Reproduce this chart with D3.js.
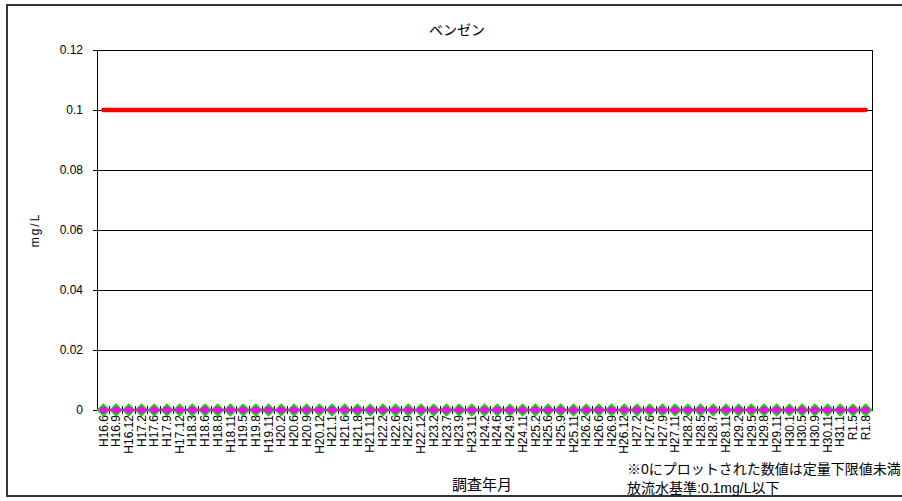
<!DOCTYPE html>
<html><head><meta charset="utf-8">
<script src="https://cdn.jsdelivr.net/npm/d3@7"></script>
<style>body{margin:0;background:#fff}svg{display:block}text{font-family:"Liberation Sans","Noto Sans CJK JP",sans-serif;fill:#000}</style>
</head><body>
<script>
const categories = ["H16.6","H16.9","H16.12","H17.2","H17.6","H17.9","H17.12","H18.3","H18.6","H18.8","H18.11","H19.5","H19.8","H19.11","H20.2",
"H20.6","H20.9","H20.12","H21.1","H21.6","H21.8","H21.11","H22.2","H22.6","H22.9","H22.12","H23.2","H23.7","H23.9","H23.11",
"H24.2","H24.6","H24.9","H24.11","H25.2","H25.6","H25.9","H25.11","H26.2","H26.6","H26.9","H26.12","H27.2","H27.6","H27.9",
"H27.11","H28.2","H28.5","H28.7","H28.11","H29.2","H29.5","H29.8","H29.11","H30.1","H30.5","H30.9","H30.11","H31.1","R1.5","R1.8"];
const measured = categories.map(() => 0);      // 定量下限値未満 -> 0
const lowerLimit = categories.map(() => 0);
const standard = categories.map(() => 0.1);    // 放流水基準
const yTicks = [0, 0.02, 0.04, 0.06, 0.08, 0.1, 0.12];
const yTickLabels = ["0","0.02","0.04","0.06","0.08","0.1","0.12"];

const W = 902, H = 501;
const L = 97, R = 872, T = 50, B = 410;
const svg = d3.select("body").append("svg").attr("width", W).attr("height", H);

// outer border
svg.append("rect").attr("x", 7).attr("y", 5).attr("width", 910).attr("height", 491)
  .attr("fill", "none").attr("stroke", "#333").attr("stroke-width", 2);

const x = d3.scaleBand().domain(categories).range([L, R]).padding(0);
const y = d3.scaleLinear().domain([0, 0.12]).range([B, T]);
const cx = d => x(d) + x.bandwidth() / 2;

// gridlines
svg.append("g").selectAll("line").data(yTicks.filter(v => v > 0)).join("line")
  .attr("x1", L).attr("x2", R).attr("y1", d => y(d)).attr("y2", d => y(d))
  .attr("stroke", "#000").attr("stroke-width", 1).attr("shape-rendering", "crispEdges");
// right border
svg.append("line").attr("x1", R).attr("x2", R).attr("y1", T).attr("y2", B)
  .attr("stroke", "#000").attr("shape-rendering", "crispEdges");

// y axis
const yAxis = d3.axisLeft(y).tickValues(yTicks).tickFormat((d, i) => yTickLabels[i]).tickSize(4).tickPadding(10);
const gy = svg.append("g").attr("transform", `translate(${L},0)`).call(yAxis);
gy.select(".domain").attr("stroke", "#000").attr("shape-rendering", "crispEdges");
gy.selectAll(".tick line").attr("stroke", "#000");
gy.selectAll("text").style("font-size", "12px");

// x axis
const xAxis = d3.axisBottom(x).tickSize(0).tickPadding(4);
const gx = svg.append("g").attr("transform", `translate(0,${B})`).call(xAxis);
gx.select(".domain").attr("stroke", "#000").attr("shape-rendering", "crispEdges");
gx.selectAll("text").style("font-size", "12px")
  .attr("transform", "rotate(-90)").attr("text-anchor", "end")
  .attr("x", -5).attr("y", 0).attr("dy", "0.35em");
// boundary tick marks
svg.append("g").selectAll("line").data(categories.slice(1)).join("line")
  .attr("x1", d => x(d)).attr("x2", d => x(d)).attr("y1", B - 4).attr("y2", B + 4)
  .attr("stroke", "#000").attr("shape-rendering", "crispEdges");

// standard line
svg.append("path").datum(standard)
  .attr("d", d3.line().x((d, i) => cx(categories[i])).y(d => y(d)))
  .attr("fill", "none").attr("stroke", "#ff0000").attr("stroke-width", 4.5).attr("stroke-linecap", "round");

// measured: green diamonds
svg.append("g").selectAll("path").data(measured).join("path")
  .attr("d", d3.symbol().type(d3.symbolDiamond2).size(120))
  .attr("transform", (d, i) => `translate(${cx(categories[i])},${y(d)})`)
  .attr("fill", "#00e000");
// lower limit series: magenta line with markers
svg.append("path").datum(lowerLimit)
  .attr("d", d3.line().x((d, i) => cx(categories[i])).y(d => y(d)))
  .attr("fill", "none").attr("stroke", "#ff00ff").attr("stroke-width", 2);
svg.append("g").selectAll("circle").data(lowerLimit).join("circle")
  .attr("cx", (d, i) => cx(categories[i])).attr("cy", d => y(d))
  .attr("r", 3.5).attr("fill", "#ff00ff");

// titles
svg.append("text").attr("x", 457).attr("y", 35).attr("text-anchor", "middle")
  .style("font-size", "14px").text("ベンゼン");
svg.append("text").attr("transform", "translate(39,230) rotate(-90)").attr("text-anchor", "middle")
  .style("font-size", "12px").style("letter-spacing", "2px").text("mg/L");
svg.append("text").attr("x", 482).attr("y", 490).attr("text-anchor", "middle")
  .style("font-size", "15px").text("調査年月");
svg.append("text").attr("x", 627).attr("y", 474).style("font-size", "14px").text("※0にプロットされた数値は定量下限値未満");
svg.append("text").attr("x", 627).attr("y", 493).style("font-size", "14px").text("放流水基準:0.1mg/L以下");
</script>
</body></html>
